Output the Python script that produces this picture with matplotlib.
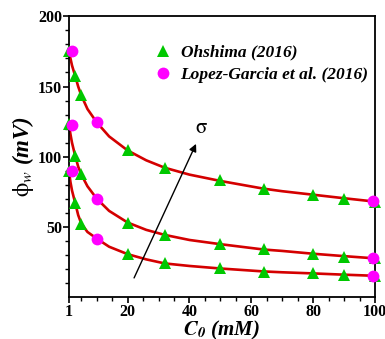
import matplotlib.pyplot as plt
import numpy as np

plt.rcParams['font.family'] = 'Liberation Serif'
plt.rcParams['mathtext.fontset'] = 'stix'

# Ohshima (2016) points, three surface charge densities
c_tri = [1, 3, 5, 20, 32, 50, 64, 80, 90, 100]
phi_tri_low = [90, 67.4, 52.5, 30.7, 24.1, 20.8, 18.2, 17.3, 16.0, 15.3]
phi_tri_mid = [123, 100.9, 87.4, 53.2, 44.4, 37.8, 34.3, 30.7, 29.0, 27.7]
phi_tri_high = [175.6, 157.7, 143.7, 104.5, 92.2, 83.2, 76.8, 73.0, 70.2, 68.1]

# Lopez-Garcia et al. (2016) points
c_circ = [1.9, 10, 99.2]
phi_circ_low = [90, 41.8, 15.3]
phi_circ_mid = [122.7, 70.2, 27.7]
phi_circ_high = [175.6, 124.5, 68.3]

# model curves
c_line = [1, 1.5, 2, 3, 4, 5, 7, 10, 14, 20, 26, 32, 40, 50, 64, 70, 80, 90, 100]
phi_line_low = [90, 82, 76, 67.4, 58.5, 52.5, 46.5, 41.8, 36, 30.7, 27, 24.1, 22.3, 20.5, 18.4, 17.8, 17.0, 16.1, 15.3]
phi_line_mid = [123, 116, 110, 100.9, 93, 87.4, 79, 70.2, 61.5, 53.2, 48, 44.4, 40.8, 37.8, 34.0, 33.0, 31.0, 29.3, 27.7]
phi_line_high = [175.6, 170, 165, 157.7, 150, 143.7, 134, 124.5, 114.5, 104.5, 97.5, 92.2, 87.3, 82.8, 77.3, 75.5, 73.0, 70.5, 68.1]

fig = plt.figure(figsize=(3.85, 3.39), dpi=100)
ax = fig.add_axes([0.179, 0.123, 0.795, 0.829])

for y in (phi_line_low, phi_line_mid, phi_line_high):
    ax.plot(c_line, y, color='#d40000', lw=1.9, zorder=2)

for i, y in enumerate((phi_tri_low, phi_tri_mid, phi_tri_high)):
    ax.plot(c_tri, y, ls='none', marker='^', ms=9, color='#00c800', mew=0,
            clip_on=False, zorder=3, label='Ohshima (2016)' if i == 0 else None)

for i, y in enumerate((phi_circ_low, phi_circ_mid, phi_circ_high)):
    ax.plot(c_circ, y, ls='none', marker='o', ms=8.5, color='#ff00ff', mew=0,
            clip_on=False, zorder=4,
            label='Lopez-Garcia et al. (2016)' if i == 0 else None)

# sigma arrow
ax.annotate('', xy=(42.5, 111), xytext=(21.7, 12),
            arrowprops=dict(arrowstyle='-|>', color='black', lw=1.0,
                            mutation_scale=11))
ax.text(44, 120, r'$\mathrm{\sigma}$', fontsize=15, ha='center', va='center')

ax.set_xlim(1, 100)
ax.set_ylim(0, 200)
ax.set_xticks([1, 20, 40, 60, 80, 100])
ax.set_xticks(np.arange(5, 100, 5), minor=True)
ax.set_yticks([50, 100, 150, 200])
ax.set_yticks(np.arange(10, 200, 10), minor=True)
ax.tick_params(which='major', direction='out', length=4, width=1.2, labelsize=11.5, pad=1)
ax.tick_params(which='minor', direction='out', length=3, width=1.0)
for lab in ax.get_xticklabels() + ax.get_yticklabels():
    lab.set_fontweight('bold')
for s in ax.spines.values():
    s.set_linewidth(1.3)

ax.set_xlabel(r'$\mathbfit{C}_{\mathbfit{0}}$ (mM)', fontsize=15, fontweight='bold',
              fontstyle='italic', labelpad=-1)
ax.set_ylabel(r'$\mathrm{\phi}_w$ (mV)', fontsize=16.5, fontweight='bold',
              fontstyle='italic', labelpad=1)

leg = ax.legend(loc='upper right', bbox_to_anchor=(1.03, 0.955), frameon=False,
                handlelength=1.0, handletextpad=0.5, labelspacing=0.35,
                prop=dict(family='Liberation Serif', weight='bold', style='italic', size=12.5))

plt.savefig('out.png', dpi=100)
